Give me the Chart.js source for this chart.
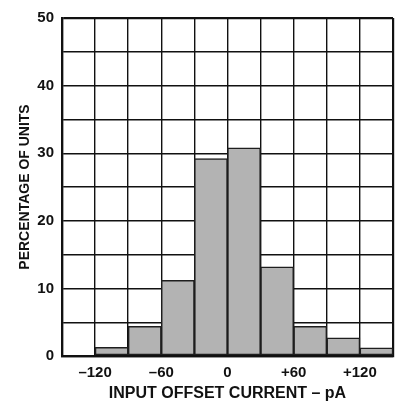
<!DOCTYPE html>
<html>
<head>
<meta charset="utf-8">
<script src="https://cdn.jsdelivr.net/npm/chart.js@4/dist/chart.umd.min.js"></script>
<style>
  html, body { margin: 0; padding: 0; background: #fff; }
  #wrap { width: 401px; height: 403px; position: relative; }
</style>
</head>
<body>
<div id="wrap"><canvas id="histChart"></canvas></div>
<script>
// bin centres (pA), each bin is 30 pA wide
const binCenters = [-135, -105, -75, -45, -15, 15, 45, 75, 105, 135];
const percentUnits = [0, 1.3, 4.4, 11.2, 29.2, 30.8, 13.2, 4.4, 2.7, 1.2];
const xTickLabels = [-120, -60, 0, 60, 120];
const yTickLabels = [0, 10, 20, 30, 40, 50];

const FAMILY = '"Liberation Sans", Arial, Helvetica, sans-serif';
const TICK_FONT = { family: FAMILY, size: 15, weight: 'bold' };

function fmtCurrent(v) {
    if (v > 0) return '+' + v;
    if (v < 0) return '\u2013' + Math.abs(v);
    return '0';
}

function edgeWidth(ctx) {
    const n = ctx.scale.ticks.length;
    return (ctx.index === 0 || ctx.index === n - 1) ? 2.2 : 1.4;
}

const ctx = document.getElementById('histChart').getContext('2d');
new Chart(ctx, {
    type: 'bar',
    data: {
        datasets: [{
            data: binCenters.map((x, i) => ({ x: x, y: percentUnits[i] })),
            backgroundColor: '#b3b3b3',
            borderColor: '#1e1e1e',
            borderWidth: 1.5,
            borderSkipped: false,
            barPercentage: 1,
            categoryPercentage: 1
        }]
    },
    options: {
        responsive: true,
        maintainAspectRatio: false,
        animation: false,
        layout: { padding: { top: 18, right: 3, left: 0, bottom: 0 } },
        plugins: { legend: { display: false }, tooltip: { enabled: false } },
        scales: {
            x: {
                type: 'linear',
                min: -150,
                max: 150,
                offset: false,
                afterFit: s => { s.height = 47; },
                border: { color: '#111', width: 2.2 },
                grid: { color: '#111', lineWidth: edgeWidth, drawTicks: false, offset: false },
                ticks: {
                    stepSize: 30,
                    autoSkip: false,
                    maxRotation: 0,
                    padding: 8,
                    color: '#111',
                    font: TICK_FONT,
                    callback: v => xTickLabels.includes(v) ? fmtCurrent(v) : ''
                },
                title: {
                    display: true,
                    text: 'INPUT OFFSET CURRENT \u2013 pA',
                    color: '#111',
                    font: { family: FAMILY, size: 16, weight: 'bold' },
                    padding: { top: 0, bottom: 0 }
                }
            },
            y: {
                min: 0,
                max: 50,
                afterFit: s => { s.width = 62; },
                border: { color: '#111', width: 2.2 },
                grid: { color: '#111', lineWidth: edgeWidth, drawTicks: false },
                ticks: {
                    stepSize: 5,
                    autoSkip: false,
                    padding: 8,
                    color: '#111',
                    font: TICK_FONT,
                    callback: v => yTickLabels.includes(v) ? String(v) : ''
                },
                title: {
                    display: true,
                    text: 'PERCENTAGE OF UNITS',
                    color: '#111',
                    font: { family: FAMILY, size: 14, weight: 'bold' },
                    padding: { top: 17, bottom: 0 }
                }
            }
        }
    }
});
</script>
</body>
</html>
